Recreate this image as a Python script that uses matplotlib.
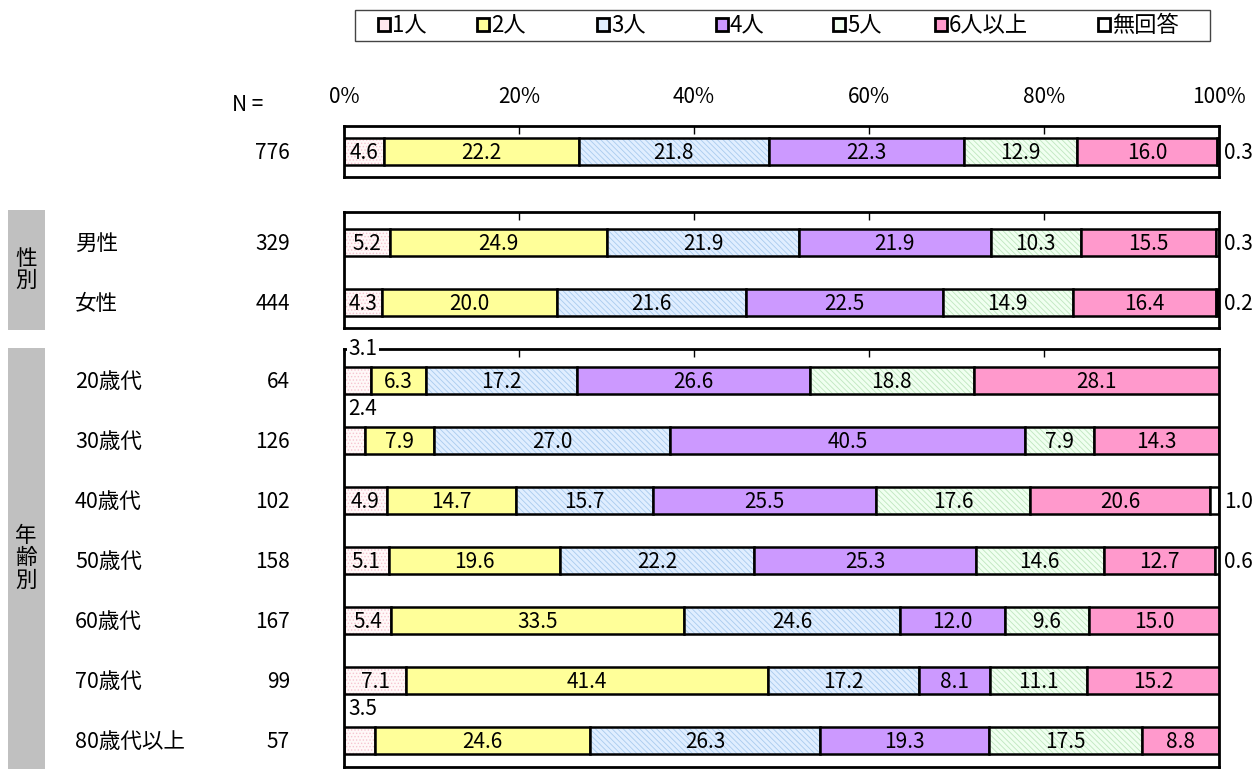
import matplotlib
matplotlib.use("Agg")
import matplotlib.pyplot as plt
from matplotlib.patches import Rectangle
import numpy as np

plt.rcParams['font.family'] = ['Noto Sans CJK JP', 'DejaVu Sans']
plt.rcParams['hatch.linewidth'] = 0.6

series = ['1人', '2人', '3人', '4人', '5人', '6人以上', '無回答']
colors = ['#FFF8F8', '#FFFF99', '#E0EEFF', '#CC99FF', '#F0FFF0', '#FF99CC', '#FFFFFF']
hatch_colors = ['#F6C4D0', None, '#A9CBEE', None, '#BFE6BF', None, None]
hatches = ['.....', None, '\\\\\\\\\\\\', None, '\\\\\\\\\\\\', None, None]
legend_x = [378, 477, 597, 716, 833, 935, 1098]

total_label = ['']
total_n = [776]
total_vals = [[4.6, 22.2, 21.8, 22.3, 12.9, 16.0, 0.3]]

sex_labels = ['男性', '女性']
sex_n = [329, 444]
sex_vals = [
    [5.2, 24.9, 21.9, 21.9, 10.3, 15.5, 0.3],
    [4.3, 20.0, 21.6, 22.5, 14.9, 16.4, 0.2],
]

age_labels = ['20歳代', '30歳代', '40歳代', '50歳代', '60歳代', '70歳代', '80歳代以上']
age_n = [64, 126, 102, 158, 167, 99, 57]
age_vals = [
    [3.1, 6.3, 17.2, 26.6, 18.8, 28.1, 0.0],
    [2.4, 7.9, 27.0, 40.5, 7.9, 14.3, 0.0],
    [4.9, 14.7, 15.7, 25.5, 17.6, 20.6, 1.0],
    [5.1, 19.6, 22.2, 25.3, 14.6, 12.7, 0.6],
    [5.4, 33.5, 24.6, 12.0, 9.6, 15.0, 0.0],
    [7.1, 41.4, 17.2, 8.1, 11.1, 15.2, 0.0],
    [3.5, 24.6, 26.3, 19.3, 17.5, 8.8, 0.0],
]

W, H = 1258, 769
fig = plt.figure(figsize=(W / 100, H / 100), dpi=100)

X0, X1 = 344, 1219
BAR_H = 27
FS_NUM = 15
FS_LAB = 15.5
DY = 2  # nudge text down a little, the CJK font sits high


def make_ax(top, bottom):
    ax = fig.add_axes([X0 / W, 1 - bottom / H, (X1 - X0) / W, (bottom - top) / H])
    ax.set_xlim(0, 100)
    ax.set_ylim(bottom, top)
    for s in ax.spines.values():
        s.set_linewidth(2)
    ax.set_yticks([])
    ax.xaxis.tick_top()
    ax.set_xticks([0, 20, 40, 60, 80, 100])
    ax.tick_params(axis='x', direction='in', length=6, width=1, labeltop=False, labelbottom=False)
    return ax


def draw_rows(ax, labels, ns, vals, centers):
    for lab, n, row, yc in zip(labels, ns, vals, centers):
        left = 0
        for i, v in enumerate(row):
            if v <= 0:
                continue
            if hatches[i]:
                ax.barh(yc, v, left=left, height=BAR_H, color=colors[i],
                        hatch=hatches[i], edgecolor=hatch_colors[i], linewidth=0)
            ax.barh(yc, v, left=left, height=BAR_H,
                    color=colors[i] if not hatches[i] else 'none',
                    edgecolor='black', linewidth=1.8)
            if i < 6:
                if v >= 4:
                    ax.text(left + v / 2, yc + DY, f'{v:.1f}', ha='center', va='center', fontsize=FS_NUM)
                else:
                    ax.text(left + 0.5, yc - 31, f'{v:.1f}', ha='left', va='center', fontsize=FS_NUM,
                            bbox=dict(facecolor='white', edgecolor='none', pad=1), clip_on=False)
            left += v
        if row[6] > 0:
            ax.text(100.6, yc + DY, f'{row[6]:.1f}', ha='left', va='center', fontsize=FS_NUM, clip_on=False)
        yf = 1 - (yc + DY) / H
        fig.text(75 / W, yf, lab, ha='left', va='center', fontsize=FS_LAB)
        fig.text(290 / W, yf, str(n), ha='right', va='center', fontsize=FS_NUM)


ax_t = make_ax(126, 177)
ax_t.tick_params(axis='x', labeltop=True, pad=13, labelsize=FS_NUM)
ax_t.set_xticklabels([f'{t}%' for t in [0, 20, 40, 60, 80, 100]])
draw_rows(ax_t, total_label, total_n, total_vals, [151])

ax_s = make_ax(212, 328)
draw_rows(ax_s, sex_labels, sex_n, sex_vals, [242, 302])

ax_a = make_ax(349, 767)
draw_rows(ax_a, age_labels, age_n, age_vals, [380 + 60 * k for k in range(7)])

fig.text(248 / W, 1 - 105 / H, 'N =', ha='center', va='center', fontsize=FS_NUM)

# group boxes
for top, bottom, text in [(210, 330, '性\n別'), (348, 769, '年\n齢\n別')]:
    fig.patches.append(Rectangle((8 / W, 1 - bottom / H), 37 / W, (bottom - top) / H,
                                 transform=fig.transFigure, facecolor='#C0C0C0',
                                 edgecolor='none', zorder=0))
    fig.text(26 / W, 1 - (top + bottom) / 2 / H, text, ha='center', va='center',
             fontsize=FS_LAB, linespacing=1.0)

# legend box drawn by hand
fig.patches.append(Rectangle((355 / W, 1 - 41 / H), 855 / W, 31 / H, transform=fig.transFigure,
                             facecolor='white', edgecolor='#444444', linewidth=1))
for i, (name, lx) in enumerate(zip(series, legend_x)):
    fig.patches.append(Rectangle((lx / W, 1 - 31 / H), 12 / W, 13 / H, transform=fig.transFigure,
                                 facecolor=colors[i] if i != 0 else '#FFE8EE',
                                 edgecolor='black', linewidth=2))
    fig.text((lx + 14) / W, 1 - 26 / H, name, ha='left', va='center', fontsize=16)

fig.savefig('out.png', dpi=100)
